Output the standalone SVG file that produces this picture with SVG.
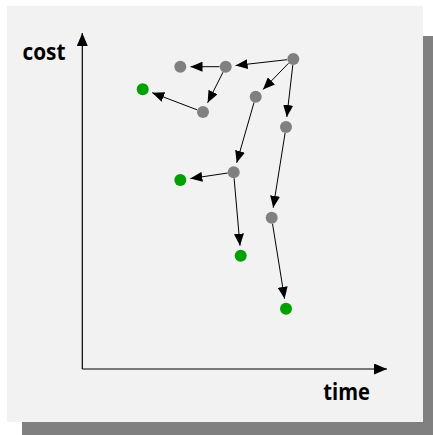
<svg xmlns="http://www.w3.org/2000/svg" width="433" height="435" viewBox="0 0 433 435">
  <defs>
    <marker id="arrow" viewBox="0 0 12 10" refX="12" refY="5" markerWidth="12" markerHeight="10" markerUnits="userSpaceOnUse" orient="auto">
      <path d="M0,0 L12,5 L0,10 z" fill="#000"/>
    </marker>
    <marker id="axis-arrow" viewBox="0 0 13 11" refX="13" refY="5.5" markerWidth="13" markerHeight="11" markerUnits="userSpaceOnUse" orient="auto">
      <path d="M0,0 L13,5.5 L0,11 z" fill="#000"/>
    </marker>
  </defs>
  <style>
    .edge { stroke: #000; stroke-width: 1; fill: none; marker-end: url(#arrow); }
    .axis { stroke: #000; stroke-width: 1.2; fill: none; marker-end: url(#axis-arrow); }
    .gray { fill: #808080; }
    .green { fill: #00a000; }
    .label { font-family: "Open Sans", "DejaVu Sans", sans-serif; font-weight: bold; font-size: 23px; fill: #000; }
  </style>

  <rect width="433" height="435" fill="#ffffff"/>
  <!-- drop shadow and panel -->
  <rect x="22" y="36" width="411" height="399" fill="#808080"/>
  <rect x="7" y="6" width="416" height="416" fill="#f2f2f2"/>

  <!-- axes -->
  <g id="axes">
    <line class="axis" x1="82.3" y1="369" x2="82.3" y2="33"/>
    <line class="axis" x1="82.3" y1="369" x2="387" y2="369"/>
    <text class="label" x="22.5" y="60" textLength="43" lengthAdjust="spacingAndGlyphs">cost</text>
    <text class="label" x="323.3" y="400" textLength="46.7" lengthAdjust="spacingAndGlyphs">time</text>
  </g>

  <!-- connectors -->
  <g id="edges">
    <line class="edge" x1="287" y1="59.7" x2="235.6" y2="65.5"/>
    <line class="edge" x1="219.5" y1="66.7" x2="190.5" y2="66.7"/>
    <line class="edge" x1="223" y1="72.2" x2="207.6" y2="102.8"/>
    <line class="edge" x1="197" y1="109.8" x2="152.2" y2="92.7"/>
    <line class="edge" x1="288.5" y1="63.3" x2="263" y2="89.5"/>
    <line class="edge" x1="292.8" y1="65" x2="286.8" y2="117"/>
    <line class="edge" x1="254" y1="102.5" x2="236.7" y2="162.8"/>
    <line class="edge" x1="227.7" y1="173" x2="190.3" y2="178.6"/>
    <line class="edge" x1="234.1" y1="178.3" x2="240" y2="245.7"/>
    <line class="edge" x1="285.1" y1="133" x2="273.2" y2="207.8"/>
    <line class="edge" x1="272.5" y1="223.7" x2="284.6" y2="298.8"/>
  </g>

  <!-- nodes -->
  <g id="n-a"><circle class="gray" cx="293.3" cy="59" r="6"/></g>
  <g id="n-b"><circle class="gray" cx="225.7" cy="66.7" r="6"/></g>
  <g id="n-c"><circle class="gray" cx="180.3" cy="66.7" r="6"/></g>
  <g id="n-d"><circle class="green" cx="142.7" cy="89.3" r="6"/></g>
  <g id="n-e"><circle class="gray" cx="203" cy="112" r="6"/></g>
  <g id="n-f"><circle class="gray" cx="255.7" cy="96.7" r="6"/></g>
  <g id="n-g"><circle class="gray" cx="286" cy="127" r="6"/></g>
  <g id="n-h"><circle class="gray" cx="233.7" cy="172.3" r="6"/></g>
  <g id="n-i"><circle class="green" cx="180.3" cy="180" r="6"/></g>
  <g id="n-j"><circle class="green" cx="240.7" cy="255.7" r="6"/></g>
  <g id="n-k"><circle class="gray" cx="271.7" cy="217.7" r="6"/></g>
  <g id="n-l"><circle class="green" cx="286" cy="308.7" r="6"/></g>
</svg>
